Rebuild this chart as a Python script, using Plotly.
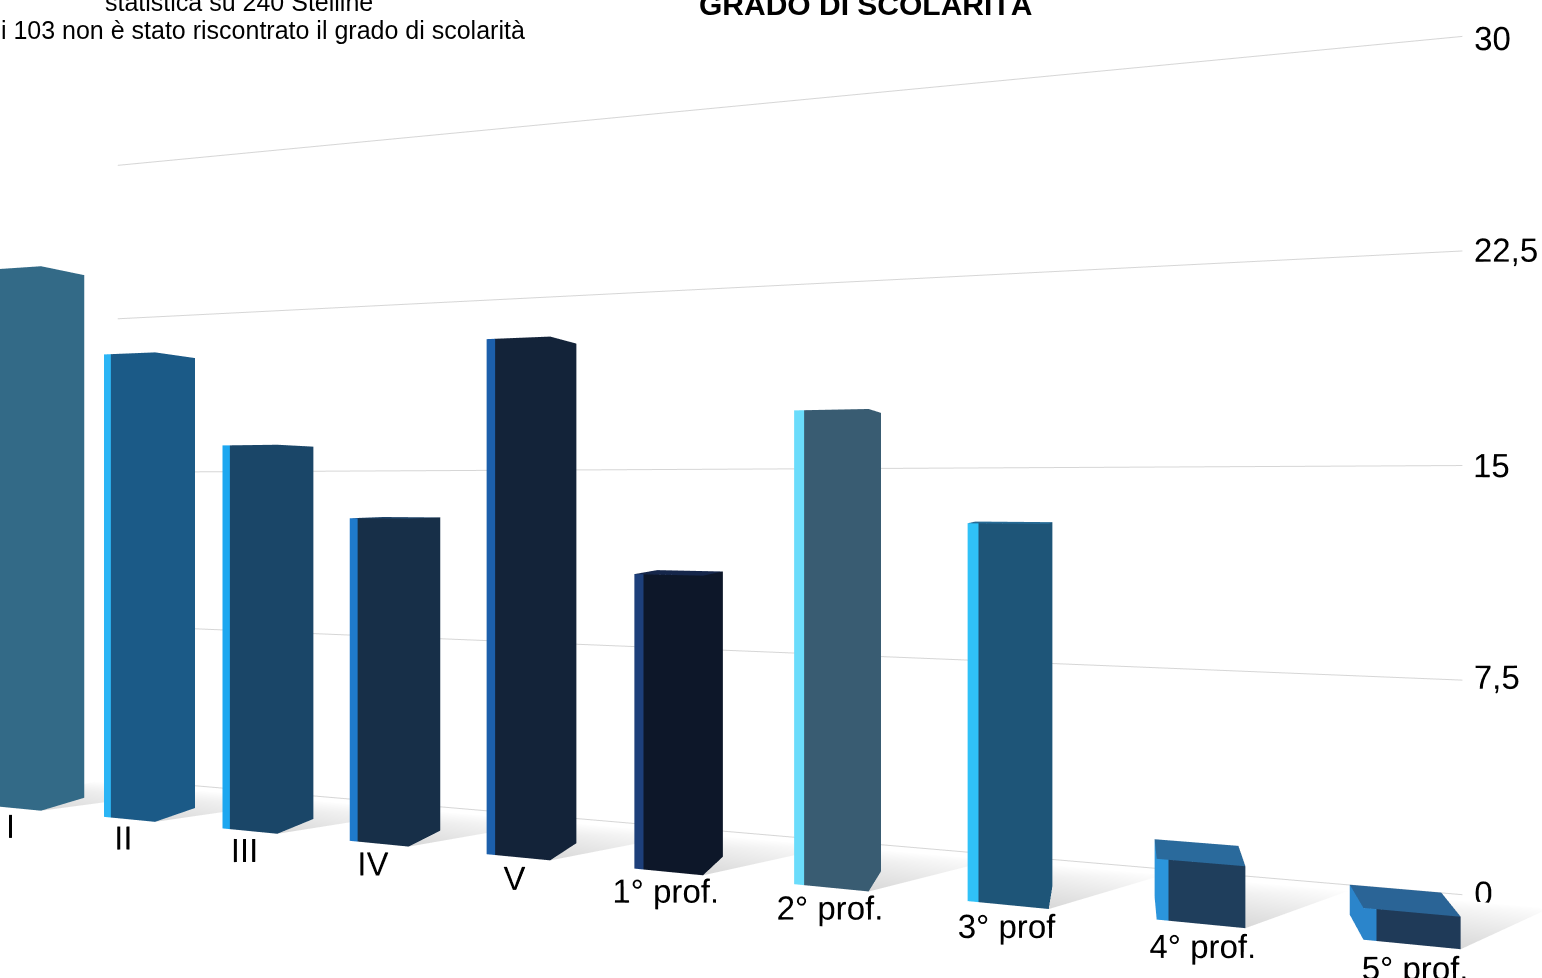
import plotly.graph_objects as go

# Scolarità delle Stelline (conteggi per classe)
categorie = ["I", "II", "III", "IV", "V", "1° prof.", "2° prof.", "3° prof", "4° prof.", "5° prof."]
valori = [24, 20, 16, 13, 20, 11, 17, 13, 2, 1]

# colore faccia principale / bordo illuminato / faccia superiore
col_faccia = ["#336a87", "#1b5a87", "#1a4668", "#172f48", "#132339",
              "#0d1729", "#395c72", "#1e5578", "#1f3e5c", "#1f3a58"]
col_bordo = ["#5ccdf5", "#2bb5f5", "#1da7f0", "#1f7acc", "#1c5fab",
             "#1d3f7a", "#6adcfb", "#30c2f8", "#2b95dc", "#2b85cb"]
col_sopra = ["#3f7fa0", "#2470a5", "#225a85", "#1f4468", "#1b3558",
             "#15264a", "#4a7590", "#266a95", "#2a6a9c", "#2a6496"]

tick_z = [0, 7.5, 15, 22.5, 30]
tick_testo = ["0", "7,5", "15", "22,5", "30"]

FONT = "Liberation Sans, Arial, sans-serif"
MEZZA_L = 0.22    # mezza larghezza barra (asse x)
STRISCIA = 0.06   # larghezza del bordo illuminato
Y0, Y1 = -0.35, 0.0
Y_PARETE = 0.5
PARETE_X = (0.0, 9.45)

xs, ys, zs, ii, jj, kk, fc = [], [], [], [], [], [], []


def quad(p, colore):
    base = len(xs)
    for (a, b, c) in p:
        xs.append(a); ys.append(b); zs.append(c)
    ii.extend([base, base]); jj.extend([base + 1, base + 2]); kk.extend([base + 2, base + 3])
    fc.extend([colore, colore])


for i, v in enumerate(valori):
    x0, x1 = i - MEZZA_L, i + MEZZA_L
    xs_ = x0 + STRISCIA
    # faccia frontale: bordo chiaro + corpo scuro
    quad([(x0, Y0, 0), (xs_, Y0, 0), (xs_, Y0, v), (x0, Y0, v)], col_bordo[i])
    quad([(xs_, Y0, 0), (x1, Y0, 0), (x1, Y0, v), (xs_, Y0, v)], col_faccia[i])
    # fianchi
    quad([(x1, Y0, 0), (x1, Y1, 0), (x1, Y1, v), (x1, Y0, v)], col_faccia[i])
    quad([(x0, Y0, 0), (x0, Y1, 0), (x0, Y1, v), (x0, Y0, v)], col_bordo[i])
    # faccia superiore
    quad([(x0, Y0, v), (x1, Y0, v), (x1, Y1, v), (x0, Y1, v)], col_sopra[i])

barre = go.Mesh3d(
    x=xs, y=ys, z=zs, i=ii, j=jj, k=kk, facecolor=fc,
    flatshading=True,
    lighting=dict(ambient=1.0, diffuse=0.0, specular=0.0, fresnel=0.0, roughness=1.0),
    hoverinfo="skip", showscale=False,
)

# ombre morbide sul pavimento, dietro e a destra di ogni barra
ox, oy, oz, oi, oj, ok, oc = [], [], [], [], [], [], []
for i in range(len(valori)):
    pts = [(i - 0.22, Y1), (i + 0.22, Y0), (i + 0.85, Y1 + 0.4), (i - 0.1, Y1 + 0.4)]
    cols = ["#e4e4e4", "#d8d8d8", "#ffffff", "#ffffff"]
    b = len(ox)
    for (a, c), col in zip(pts, cols):
        ox.append(a); oy.append(c); oz.append(0.0); oc.append(col)
    oi += [b, b]; oj += [b + 1, b + 2]; ok += [b + 2, b + 3]
ombre = go.Mesh3d(
    x=ox, y=oy, z=oz, i=oi, j=oj, k=ok, vertexcolor=oc,
    lighting=dict(ambient=1.0, diffuse=0.0, specular=0.0, fresnel=0.0, roughness=1.0),
    hoverinfo="skip", showscale=False,
)

# linee della griglia sulla parete di fondo, una per ogni tick
gx, gy, gz = [], [], []
for t in tick_z:
    gx += [PARETE_X[0], PARETE_X[1], None]
    gy += [Y_PARETE, Y_PARETE, None]
    gz += [t, t, None]
griglia = go.Scatter3d(x=gx, y=gy, z=gz, mode="lines",
                       line=dict(color="#d6d6d6", width=2),
                       hoverinfo="skip", showlegend=False)

# valori dell'asse verticale, all'estremità destra della parete
tick_lab = go.Scatter3d(
    x=[PARETE_X[1] - 0.1] * len(tick_z), y=[Y_PARETE] * len(tick_z), z=tick_z,
    mode="text", text=tick_testo, textposition="middle right",
    textfont=dict(family=FONT, size=33, color="black"),
    hoverinfo="skip", showlegend=False,
)

etichette = go.Scatter3d(
    x=list(range(len(categorie))), y=[-0.4] * len(categorie), z=[-0.7] * len(categorie),
    mode="text", text=categorie, textposition="middle center",
    textfont=dict(family=FONT, size=33, color="black"),
    hoverinfo="skip", showlegend=False,
)

fig = go.Figure([ombre, griglia, barre, tick_lab, etichette])

asse_vuoto = dict(showgrid=False, showline=False, zeroline=False, showticklabels=False,
                  showbackground=False, showspikes=False, title=dict(text=""), ticks="")

# spostamento della camera lungo la direzione "destra" della vista
SX, SY, SZ = 0.415 * 0.96, 0.415 * 0.29, 0.012

fig.update_layout(
    width=1542, height=978,
    margin=dict(l=0, r=0, t=0, b=0),
    paper_bgcolor="white",
    showlegend=False,
    scene=dict(
        domain=dict(x=[0, 1], y=[0, 1]),
        xaxis=dict(asse_vuoto, range=[-0.7, 9.8]),
        yaxis=dict(asse_vuoto, range=[-1.0, 0.55]),
        zaxis=dict(asse_vuoto, range=[-2.5, 30.5]),
        aspectmode="manual",
        aspectratio=dict(x=4.33, y=0.67, z=2.2),
        camera=dict(
            projection=dict(type="perspective"),
            eye=dict(x=0.85 + SX, y=-2.9 + SY, z=SZ),
            center=dict(x=SX, y=SY, z=SZ),
            up=dict(x=0, y=0, z=1),
        ),
    ),
    annotations=[
        dict(text="<b>GRADO DI SCOLARITÀ</b>", xref="paper", yref="paper",
             x=865 / 1542, y=1, xanchor="center", yanchor="middle", yshift=-4,
             showarrow=False, font=dict(family=FONT, size=30, color="black")),
        dict(text="statistica su 240 Stelline", xref="paper", yref="paper",
             x=239 / 1542, y=1, xanchor="center", yanchor="middle", yshift=-2,
             showarrow=False, font=dict(family=FONT, size=25, color="black")),
        dict(text="di 103 non è stato riscontrato il grado di scolarità", xref="paper", yref="paper",
             x=527 / 1542, y=1, xanchor="right", yanchor="middle", yshift=-30,
             showarrow=False, font=dict(family=FONT, size=25, color="black")),
    ],
)

fig.write_html("out.html")
